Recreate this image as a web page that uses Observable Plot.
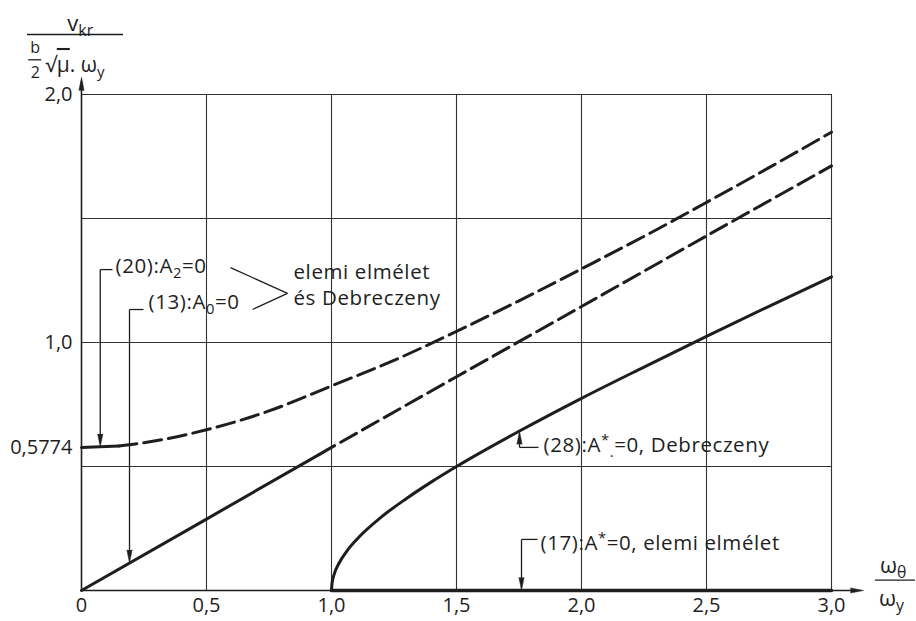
<!DOCTYPE html>
<html><head><meta charset="utf-8">
<script src="https://cdn.jsdelivr.net/npm/d3@7"></script>
<script src="https://cdn.jsdelivr.net/npm/@observablehq/plot@0.6"></script>
<style>body{margin:0;background:#fff} svg{display:block}</style>
</head><body><div id="chart"></div>
<script>
// ---- data ----
const xGrid = [0.5, 1, 1.5, 2, 2.5, 3];
const yGrid = [0.5, 1, 1.5, 2];
const xTicks = [0, 0.5, 1, 1.5, 2, 2.5, 3];
const yTicks = [0.5774, 1, 2];

// (20): A2 = 0  (upper dashed curve)
const a2X = [0, 0.15, 0.25, 0.5, 0.75, 1, 1.25, 1.5, 1.75, 2, 2.25, 2.5, 2.75, 3];
const a2Y = [0.577, 0.583, 0.596, 0.648, 0.724, 0.825, 0.928, 1.045, 1.168, 1.297, 1.428, 1.565, 1.705, 1.848];
const a2SolidTo = 0.15;

// (13): A0 = 0  (straight line)
const a0X = [0, 0.5, 0.95, 1, 1.5, 2, 2.5, 3];
const a0Y = [0, 0.288, 0.548, 0.577, 0.862, 1.145, 1.43, 1.712];
const a0SolidTo = 0.95;

// (28): A*. = 0, Debreczeny (solid curve from 1.0)
const a28X = [1, 1.002, 1.01, 1.03, 1.06, 1.1, 1.2, 1.3, 1.4, 1.5, 1.75, 2, 2.25, 2.5, 2.75, 3];
const a28Y = [0, 0.028, 0.063, 0.11, 0.157, 0.205, 0.297, 0.371, 0.438, 0.5, 0.642, 0.775, 0.901, 1.025, 1.146, 1.265];

// (17): A* = 0, elemi elmélet (along the axis)
const a17X = [1, 3];
const a17Y = [0, 0];

// annotation texts and anchors
const noteText = ["(20):A_{2}=0", "(13):A_{0}=0", "elemi elmélet", "és Debreczeny",
                  "(28):A^{*}_{.}=0, Debreczeny", "(17):A^{*}=0, elemi elmélet"];
const noteX = [0.136, 0.268, 0.848, 0.848, 1.848, 1.836];
const noteY = [1.306, 1.161, 1.282, 1.177, 0.585, 0.19];

// leader lines
const leadX1 = [0.075, 0.075, 0.192, 0.192, 0.596, 0.684, 1.752, 1.752, 1.76, 1.76];
const leadY1 = [1.294, 1.294, 1.133, 1.133, 1.302, 1.133, 0.577, 0.577, 0.206, 0.206];
const leadX2 = [0.075, 0.124, 0.192, 0.248, 0.824, 0.824, 1.828, 1.752, 1.824, 1.76];
const leadY2 = [0.60, 1.294, 0.14, 1.133, 1.198, 1.198, 0.577, 0.62, 0.206, 0.03];

// arrow heads (tip points) and direction
const tipX = [0.075, 0.192, 1.752, 1.76, 0, 3.128];
const tipY = [0.579, 0.111, 0.642, 0.0, 2.069, 0];
const tipRot = [180, 180, 0, 180, 0, 90];

// axis titles (centred pieces)
const titleText = ["v_{kr}", "ω_{θ}", "ω_{y}"];
const titleX = [-0.005, 3.247, 3.24];
const titleY = [2.285, 0.1, -0.035];
// small b/2 fraction
const halfText = ["b", "2"];
const halfX = [-0.185, -0.185];
const halfY = [2.19, 2.088];
// axis title piece set from its left edge
const titleStartText = ["√~{μ}. ω_{y}"];
const titleStartX = [-0.145];
const titleStartY = [2.118];
// fraction bars
const barX1 = [-0.216, -0.211, 3.176];
const barX2 = [0.168, -0.159, 3.336];
const barY = [2.242, 2.14, 0.042];
// ---------------------------------------

const tbl = (xs, ys) => xs.map((x, i) => ({x, y: ys[i]}));
const a2 = tbl(a2X, a2Y), a0 = tbl(a0X, a0Y), a28 = tbl(a28X, a28Y), a17 = tbl(a17X, a17Y);
const notes = noteText.map((t, i) => ({t, x: noteX[i], y: noteY[i]}));
const leads = leadX1.map((x1, i) => ({x1, y1: leadY1[i], x2: leadX2[i], y2: leadY2[i]}));
const tips = tipX.map((x, i) => ({x, y: tipY[i], r: tipRot[i]}));
const titles = titleText.map((t, i) => ({t, x: titleX[i], y: titleY[i]}));
const halves = halfText.map((t, i) => ({t, x: halfX[i], y: halfY[i]}));
const titlesStart = titleStartText.map((t, i) => ({t, x: titleStartX[i], y: titleStartY[i]}));
const bars = barX1.map((x1, i) => ({x1, x2: barX2[i], y: barY[i]}));

const ink = "#1e1e1e";
const fmt = v => v === 0 ? "0" : (v === 0.5774 ? "0,5774" : d3.format(".1f")(v).replace(".", ","));

const chart = Plot.plot({
  width: 916, height: 621,
  marginLeft: 81, marginRight: 85, marginTop: 94, marginBottom: 31,
  x: {domain: [0, 3]},
  y: {domain: [0, 2]},
  style: {fontFamily: "'Open Sans', 'DejaVu Sans', sans-serif", fontSize: "20px", color: ink, background: "#fff"},
  marks: [
    Plot.ruleX(xGrid, {y1: 0, y2: 2, stroke: "#333", strokeWidth: 1.1}),
    Plot.ruleY(yGrid, {x1: 0, x2: 3, stroke: "#333", strokeWidth: 1.1}),
    // axis lines
    Plot.ruleX([0], {y1: 0, y2: 2.05, stroke: ink, strokeWidth: 1.6}),
    Plot.ruleY([0], {x1: 0, x2: 3.1, stroke: ink, strokeWidth: 1.6}),
    Plot.axisX(xTicks, {tickSize: 0, tickPadding: 7, tickFormat: fmt, label: null, fontSize: 20}),
    Plot.axisY(yTicks, {tickSize: 0, tickPadding: 9, tickFormat: fmt, label: null, fontSize: 20}),
    // curves
    Plot.line(a2.filter(d => d.x <= a2SolidTo), {x: "x", y: "y", stroke: ink, strokeWidth: 3, curve: "monotone-x"}),
    Plot.line(a2.filter(d => d.x >= a2SolidTo), {x: "x", y: "y", stroke: ink, strokeWidth: 3, curve: "monotone-x", strokeDasharray: "18,7"}),
    Plot.line(a0.filter(d => d.x <= a0SolidTo), {x: "x", y: "y", stroke: ink, strokeWidth: 3}),
    Plot.line(a0.filter(d => d.x >= a0SolidTo), {x: "x", y: "y", stroke: ink, strokeWidth: 3, strokeDasharray: "18,7"}),
    Plot.line(a28, {x: "x", y: "y", stroke: ink, strokeWidth: 3, curve: "monotone-x"}),
    Plot.line(a17, {x: "x", y: "y", stroke: ink, strokeWidth: 3.5}),
    // annotations
    Plot.link(leads, {x1: "x1", y1: "y1", x2: "x2", y2: "y2", stroke: ink, strokeWidth: 1.3}),
    Plot.vector(tips, {x: "x", y: "y", rotate: "r", shape: "spike", anchor: "end", length: 13, r: 2.6, fill: ink, stroke: ink, strokeWidth: 0.5}),
    Plot.text(notes, {x: "x", y: "y", text: "t", textAnchor: "start", fontSize: 20.5, fill: ink, className: "note"}),
    // axis titles
    Plot.text(titles, {x: "x", y: "y", text: "t", textAnchor: "middle", fontSize: 22, fill: ink}),
    Plot.text(halves, {x: "x", y: "y", text: "t", textAnchor: "middle", fontSize: 16, fill: ink}),
    Plot.text(titlesStart, {x: "x", y: "y", text: "t", textAnchor: "start", fontSize: 21, fill: ink}),
    Plot.ruleY(bars, {x1: "x1", x2: "x2", y: "y", stroke: ink, strokeWidth: 1.3})
  ]
});

// letter spacing for the technical lettering of the notes
d3.select(chart).selectAll("g.note text").attr("letter-spacing", "0.6px");

// render _{..} / ^{..} as sub/superscripts, ~{..} as overlined (radicand)
d3.select(chart).selectAll("text").each(function() {
  const s = this.textContent;
  if (!/[_^~]\{/.test(s)) return;
  const node = d3.select(this);
  node.text(null);
  const re = /([_^~])\{([^}]*)\}/g;
  let last = 0, m;
  while ((m = re.exec(s))) {
    if (m.index > last) node.append("tspan").text(s.slice(last, m.index));
    const t = node.append("tspan").text(m[2]);
    if (m[1] === "~") t.attr("text-decoration", "overline");
    else t.attr("font-size", "72%").attr("baseline-shift", m[1] === "_" ? "-30%" : "45%");
    last = re.lastIndex;
  }
  if (last < s.length) node.append("tspan").text(s.slice(last));
});

document.getElementById("chart").append(chart);
</script>
</body></html>
